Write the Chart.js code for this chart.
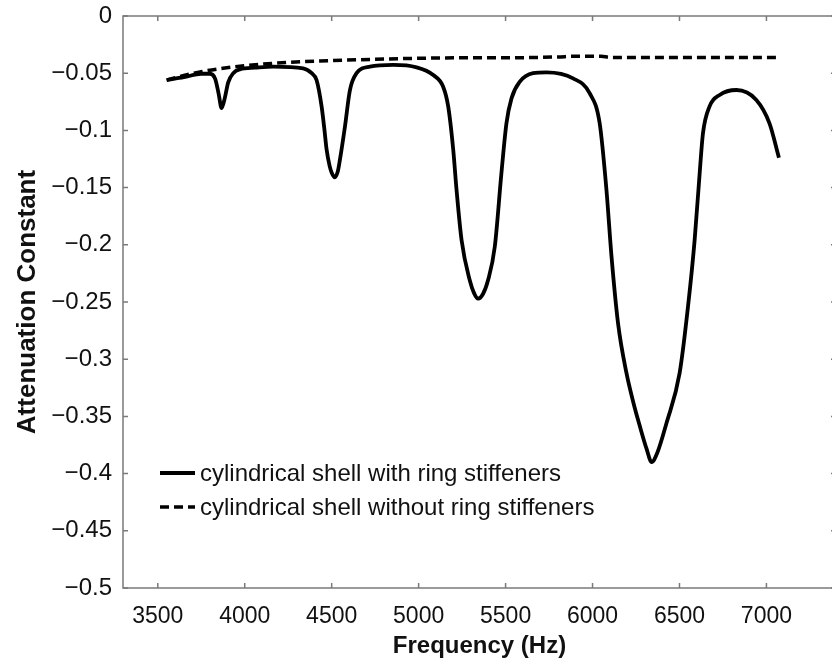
<!DOCTYPE html>
<html>
<head>
<meta charset="utf-8">
<title>Attenuation Constant vs Frequency</title>
<script src="https://cdn.jsdelivr.net/npm/chart.js@4/dist/chart.umd.min.js"></script>
<style>
    html, body { margin: 0; padding: 0; overflow: hidden; background: #fff; }
    #wrap { width: 838px; height: 664px; }
</style>
</head>
<body>
<div id="wrap"><canvas id="atten"></canvas></div>
<script>
// values
const freqWith = [3551, 3650, 3750, 3800, 3830, 3850, 3867, 3885, 3905, 3934, 3972, 4060, 4164, 4336, 4385, 4413,
    4442, 4458, 4471, 4488, 4500, 4518, 4535, 4547, 4576, 4605, 4643, 4720, 4854, 4988, 5084, 5141, 5170, 5199,
    5218, 5247, 5294, 5318, 5342, 5370, 5399, 5438, 5476, 5505, 5534, 5582, 5658, 5735, 5888, 5984, 6041, 6080,
    6109, 6147, 6195, 6235, 6271, 6310, 6340, 6372, 6425, 6501, 6549, 6587, 6616, 6635, 6673, 6731, 6827, 6942, 7018, 7072];
const attWith = [-0.056, -0.0535, -0.0505, -0.0505, -0.055, -0.068, -0.0805, -0.072, -0.058, -0.050, -0.0466,
    -0.0452, -0.0443, -0.0457, -0.050, -0.056, -0.079, -0.099, -0.117, -0.131, -0.137, -0.141, -0.136, -0.126,
    -0.097, -0.0647, -0.050, -0.0443, -0.0428, -0.0449, -0.0516, -0.0618, -0.079, -0.117, -0.152, -0.196, -0.231,
    -0.242, -0.247, -0.243, -0.231, -0.2016, -0.1375, -0.0938, -0.072, -0.0574, -0.050, -0.0492, -0.0545, -0.0676,
    -0.0938, -0.152, -0.210, -0.269, -0.312, -0.338, -0.358, -0.378, -0.390, -0.382, -0.356, -0.312, -0.254, -0.196,
    -0.1375, -0.1025, -0.079, -0.069, -0.0647, -0.0734, -0.094, -0.124];

const freqWithout = [3551, 3650, 3750, 3875, 4000, 4250, 4500, 4750, 5000, 5250, 5500, 5800, 5900, 6050, 6100, 6500, 7070];
const attWithout = [-0.056, -0.052, -0.0487, -0.0457, -0.0435, -0.0405, -0.039, -0.0378, -0.037, -0.0365, -0.0365,
    -0.0358, -0.0352, -0.0352, -0.0362, -0.0362, -0.0362];

const seriesNames = ['cylindrical shell with ring stiffeners', 'cylindrical shell without ring stiffeners'];
const xTicks = [3500, 4000, 4500, 5000, 5500, 6000, 6500, 7000];
const yTicks = [0, -0.05, -0.1, -0.15, -0.2, -0.25, -0.3, -0.35, -0.4, -0.45, -0.5];

const FONT = "'Liberation Sans', Arial, Helvetica, sans-serif";

function toPoints(xs, ys) {
    return xs.map((x, i) => ({ x: x, y: ys[i] }));
}

function fmtY(v) {
    if (v === 0) return '0';
    return '\u2212' + parseFloat(Math.abs(v).toFixed(2)).toString();
}

// box around the plot with small inward tick marks on all four sides
const frameTicks = {
    id: 'frameTicks',
    afterDraw(chart) {
        const { ctx, chartArea: a, scales } = chart;
        const len = 5;
        ctx.save();
        ctx.strokeStyle = '#7a7a7a';
        ctx.lineWidth = 1.5;
        ctx.setLineDash([]);
        ctx.strokeRect(a.left, a.top, a.right - a.left, a.bottom - a.top);
        ctx.beginPath();
        xTicks.forEach(v => {
            const px = scales.x.getPixelForValue(v);
            ctx.moveTo(px, a.bottom); ctx.lineTo(px, a.bottom - len);
            ctx.moveTo(px, a.top); ctx.lineTo(px, a.top + len);
        });
        yTicks.forEach(v => {
            const py = scales.y.getPixelForValue(v);
            ctx.moveTo(a.left, py); ctx.lineTo(a.left + len, py);
            ctx.moveTo(a.right, py); ctx.lineTo(a.right - len, py);
        });
        ctx.stroke();
        ctx.restore();
    }
};

// legend drawn inside the plot, lower left
const insideLegend = {
    id: 'insideLegend',
    afterDatasetsDraw(chart) {
        const ctx = chart.ctx;
        const x0 = 160, y0 = 473, rowH = 34, sample = 35;
        ctx.save();
        ctx.font = '24px ' + FONT;
        ctx.textBaseline = 'middle';
        ctx.textAlign = 'left';
        chart.data.datasets.forEach((ds, i) => {
            const y = y0 + i * rowH;
            ctx.strokeStyle = ds.borderColor;
            ctx.lineWidth = ds.borderWidth;
            ctx.setLineDash(ds.borderDash || []);
            ctx.beginPath();
            ctx.moveTo(x0, y);
            ctx.lineTo(x0 + sample, y);
            ctx.stroke();
            ctx.setLineDash([]);
            ctx.fillStyle = '#111';
            ctx.fillText(ds.label, x0 + sample + 5, y + 1);
        });
        ctx.restore();
    }
};

const ctx = document.getElementById('atten').getContext('2d');

new Chart(ctx, {
    type: 'line',
    data: {
        datasets: [
            {
                label: seriesNames[0],
                data: toPoints(freqWith, attWith),
                borderColor: '#000',
                borderWidth: 3.8,
                pointRadius: 0,
                cubicInterpolationMode: 'monotone',
                fill: false
            },
            {
                label: seriesNames[1],
                data: toPoints(freqWithout, attWithout),
                borderColor: '#000',
                borderWidth: 3.5,
                borderDash: [9, 5],
                pointRadius: 0,
                cubicInterpolationMode: 'monotone',
                fill: false
            }
        ]
    },
    options: {
        responsive: true,
        maintainAspectRatio: false,
        animation: false,
        layout: {
            autoPadding: false,
            padding: { top: 16, right: 2, left: 0, bottom: 0 }
        },
        plugins: {
            legend: { display: false },
            tooltip: { enabled: false }
        },
        scales: {
            x: {
                type: 'linear',
                min: 3300,
                max: 7400,
                afterBuildTicks: scale => { scale.ticks = xTicks.map(v => ({ value: v })); },
                afterFit: scale => {
                    scale.height = 76;
                    scale.paddingLeft = 0;
                    scale.paddingRight = 0;
                },
                grid: { display: false, drawTicks: false },
                border: { display: false },
                ticks: {
                    color: '#111',
                    padding: 15,
                    maxRotation: 0,
                    font: { family: FONT, size: 23 },
                    callback: v => String(v)
                },
                title: {
                    display: true,
                    text: 'Frequency (Hz)',
                    color: '#111',
                    padding: { top: 0, bottom: 3 },
                    font: { family: FONT, size: 24, weight: 'bold' }
                }
            },
            y: {
                min: -0.5,
                max: 0,
                afterBuildTicks: scale => { scale.ticks = yTicks.map(v => ({ value: v })); },
                afterFit: scale => {
                    scale.width = 123;
                    scale.paddingTop = 0;
                    scale.paddingBottom = 0;
                },
                grid: { display: false, drawTicks: false },
                border: { display: false },
                ticks: {
                    color: '#111',
                    padding: 11,
                    font: { family: FONT, size: 24 },
                    callback: v => fmtY(v)
                },
                title: {
                    display: true,
                    text: 'Attenuation Constant',
                    color: '#111',
                    padding: { top: 12, bottom: 0 },
                    font: { family: FONT, size: 26, weight: 'bold' }
                }
            }
        }
    },
    plugins: [frameTicks, insideLegend]
});
</script>
</body>
</html>
